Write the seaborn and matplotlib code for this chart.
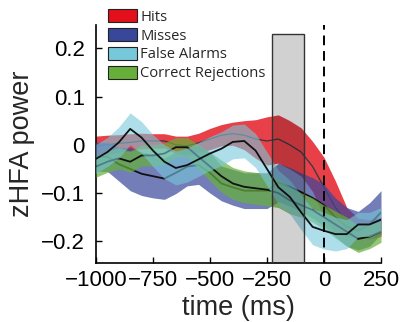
import numpy as np
import pandas as pd
import seaborn as sns
import matplotlib.pyplot as plt
from matplotlib.patches import Patch, Rectangle

time_ms = [-1000, -950, -900, -850, -800, -750, -700, -650, -600, -550, -500, -450, -400,
           -350, -300, -250, -200, -150, -100, -50, 0, 50, 100, 150, 200, 250]

hits_mean = [-0.002, 0.0, 0.003, 0.005, 0.008, 0.008, 0.008, 0.0, -0.002, 0.004, 0.012, 0.02, 0.023,
             0.02, 0.012, 0.008, 0.012, 0.0, -0.015, -0.045, -0.088, -0.13, -0.16, -0.172, -0.175, -0.17]
hits_sem = [0.02, 0.02, 0.018, 0.018, 0.016, 0.015, 0.015, 0.018, 0.02, 0.02, 0.022, 0.022, 0.024,
            0.03, 0.04, 0.05, 0.05, 0.05, 0.05, 0.052, 0.062, 0.055, 0.03, 0.02, 0.02, 0.02]

misses_mean = [-0.025, -0.025, -0.04, -0.05, -0.06, -0.065, -0.07, -0.058, -0.045, -0.042, -0.058, -0.08,
               -0.088, -0.095, -0.095, -0.095, -0.078, -0.087, -0.098, -0.11, -0.125, -0.15, -0.17,
               -0.178, -0.165, -0.14]
misses_sem = [0.03, 0.03, 0.035, 0.045, 0.045, 0.045, 0.043, 0.043, 0.04, 0.04, 0.042, 0.036, 0.037,
              0.037, 0.037, 0.037, 0.04, 0.04, 0.04, 0.042, 0.043, 0.04, 0.04, 0.04, 0.045, 0.045]

fa_mean = [-0.029, -0.015, 0.005, 0.033, 0.015, -0.012, -0.035, -0.048, -0.042, -0.03, -0.018, -0.008, 0.006,
           0.008, -0.012, -0.05, -0.088, -0.108, -0.14, -0.17, -0.178, -0.185, -0.185, -0.165, -0.165, -0.155]
fa_sem = [0.03, 0.03, 0.032, 0.033, 0.033, 0.033, 0.035, 0.035, 0.035, 0.035, 0.035, 0.035, 0.035,
          0.035, 0.035, 0.035, 0.035, 0.035, 0.036, 0.037, 0.038, 0.035, 0.03, 0.025, 0.025, 0.025]

cr_mean = [-0.045, -0.035, -0.028, -0.035, -0.022, -0.022, -0.018, -0.005, -0.005, -0.025, -0.045, -0.065,
           -0.08, -0.087, -0.09, -0.093, -0.1, -0.115, -0.125, -0.135, -0.15, -0.165, -0.18, -0.195, -0.19, -0.18]
cr_sem = [0.022, 0.022, 0.022, 0.022, 0.022, 0.022, 0.022, 0.02, 0.02, 0.025, 0.03, 0.033, 0.033,
          0.033, 0.033, 0.033, 0.03, 0.028, 0.025, 0.025, 0.025, 0.028, 0.03, 0.028, 0.025, 0.022]

labels = ["Hits", "Misses", "False Alarms", "Correct Rejections"]
colors = ["#e3101c", "#38479a", "#78c8dc", "#66b03a"]

sns.set_style("ticks")
plt.rcParams["font.family"] = ["Liberation Sans", "DejaVu Sans"]

fig = plt.figure(figsize=(4.0, 3.22), dpi=100)
ax = fig.add_axes([0.24, 0.183, 0.7125, 0.739])

df = pd.DataFrame({
    "time": time_ms * 4,
    "mean": hits_mean + misses_mean + fa_mean + cr_mean,
    "sem": hits_sem + misses_sem + fa_sem + cr_sem,
    "cond": [c for c in labels for _ in time_ms],
})
df["lo"] = df["mean"] - df["sem"]
df["hi"] = df["mean"] + df["sem"]

# drawing order: hits at the bottom, false alarms on top
band_alpha = {"Hits": 0.8, "Misses": 0.7, "Correct Rejections": 0.7, "False Alarms": 0.6}
line_style = {
    "Hits": dict(color="#2e3a40", lw=0.9),
    "Misses": dict(color="#111111", lw=1.3),
    "Correct Rejections": dict(color="#111111", lw=1.3),
    "False Alarms": dict(color="#111111", lw=1.3),
}
for i, cond in enumerate(["Hits", "Misses", "Correct Rejections", "False Alarms"]):
    sub = df[df["cond"] == cond]
    col = colors[labels.index(cond)]
    ax.fill_between(sub["time"], sub["lo"], sub["hi"], color=col, alpha=band_alpha[cond], lw=0,
                    zorder=2 + i * 2)
    sns.lineplot(data=sub, x="time", y="mean", ax=ax, zorder=3 + i * 2, **line_style[cond])

# shaded analysis window
ax.add_patch(Rectangle((-230, -0.245), 142, 0.475, facecolor=(0, 0, 0, 0.18),
                       edgecolor="#333333", lw=1.0, zorder=20))
ax.axvline(0, color="black", lw=1.4, ls=(0, (5, 3)), zorder=21)

ax.set_xlim(-1000, 250)
ax.set_ylim(-0.245, 0.248)
ax.set_xticks([-1000, -750, -500, -250, 0, 250])
ax.set_xticklabels(["\u22121000", "\u2212750", "\u2212500", "\u2212250", "0", "250"])
ax.set_yticks([-0.2, -0.1, 0, 0.1, 0.2])
ax.set_yticklabels(["\u22120.2", "\u22120.1", "0", "0.1", "0.2"])
ax.tick_params(direction="in", length=4, width=1, labelsize=16, pad=5, colors="black")
ax.tick_params(axis="y", pad=8)
ax.set_xlabel("time (ms)", fontsize=19.5, labelpad=3)
ax.set_ylabel("zHFA power", fontsize=19.5, labelpad=4)
sns.despine(ax=ax)
for s in ["left", "bottom"]:
    ax.spines[s].set_linewidth(1.2)
    ax.spines[s].set_color("black")

handles = [Patch(facecolor=c, edgecolor="#222222", lw=0.8) for c in colors]
fig.legend(handles, labels, loc="upper left", bbox_to_anchor=(0.255, 0.99), frameon=False,
           handlelength=2.0, handleheight=1.0, handletextpad=0.2,
           labelspacing=0.22, borderaxespad=0, prop={"family": "Open Sans", "size": 10.6})

fig.savefig("out.png", dpi=100)
